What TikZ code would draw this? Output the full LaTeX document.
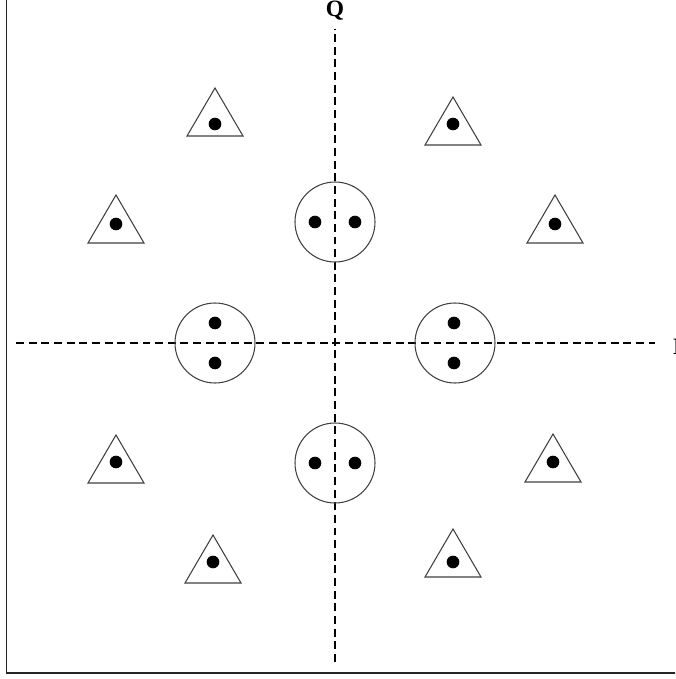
\documentclass[tikz,border=0pt]{standalone}
\usepackage{fontspec}
\setmainfont{Liberation Serif}
\usetikzlibrary{positioning}

\begin{document}
\begin{tikzpicture}[x=1.5cm,y=1.5cm,
    axisline/.style={line width=0.9pt,dash pattern=on 3.4pt off 2pt},
    ring/.style={draw=black!75,line width=0.45pt},
    pt/.style={fill=black}]
  \useasboundingbox (-3.35,-3.36) rectangle (3.40,3.43);
  \clip (-3.35,-3.36) rectangle (3.40,3.43);
  \draw[line width=0.8pt,draw=black!85] (-3.285,3.6) -- (-3.285,-3.30) -- (3.6,-3.30);
  % I and Q axes
  \coordinate (iwest) at (-3.19,0);
  \coordinate (ieast) at (3.20,0);
  \coordinate (qsouth) at (0,-3.19);
  \coordinate (qnorth) at (0,3.14);
  \draw[axisline] (iwest) -- (ieast);
  \draw[axisline] (qsouth) -- (qnorth);
  \node[font=\bfseries] (qlabel) at (0,3.32) {Q};
  \node[font=\bfseries,inner sep=0pt,anchor=west] (ilabel) at (3.375,-0.04) {I};
  % inner ring: two points per circle
  \draw[ring] (0,1.21) circle (0.6cm);
  \draw[ring] (0,-1.20) circle (0.6cm);
  \draw[ring] (-1.2,0) circle (0.6cm);
  \draw[ring] (1.2,0) circle (0.6cm);
  \fill[pt] (-0.2,1.21) circle (0.095cm);
  \fill[pt] (0.2,1.21) circle (0.095cm);
  \fill[pt] (-0.2,-1.20) circle (0.095cm);
  \fill[pt] (0.2,-1.20) circle (0.095cm);
  \fill[pt] (-1.2,0.2) circle (0.095cm);
  \fill[pt] (-1.2,-0.2) circle (0.095cm);
  \fill[pt] (1.19,0.2) circle (0.095cm);
  \fill[pt] (1.19,-0.2) circle (0.095cm);
  % outer ring: triangles (centre x, centre y, dot y)
  \foreach \cx/\cy/\dy in {-1.20/2.23/2.19, 1.18/2.14/2.19, -2.19/1.16/1.19, 2.20/1.16/1.19,
                           -2.19/-1.24/-1.19, 2.18/-1.23/-1.19, -1.22/-2.24/-2.19, 1.18/-2.18/-2.19}{
    \draw[ring] (\cx,\cy) ++(0,0.32) -- ++(0.28,-0.48) -- ++(-0.56,0) -- cycle;
    \fill[pt] (\cx,\dy) circle (0.095cm);
  }
\end{tikzpicture}
\end{document}
